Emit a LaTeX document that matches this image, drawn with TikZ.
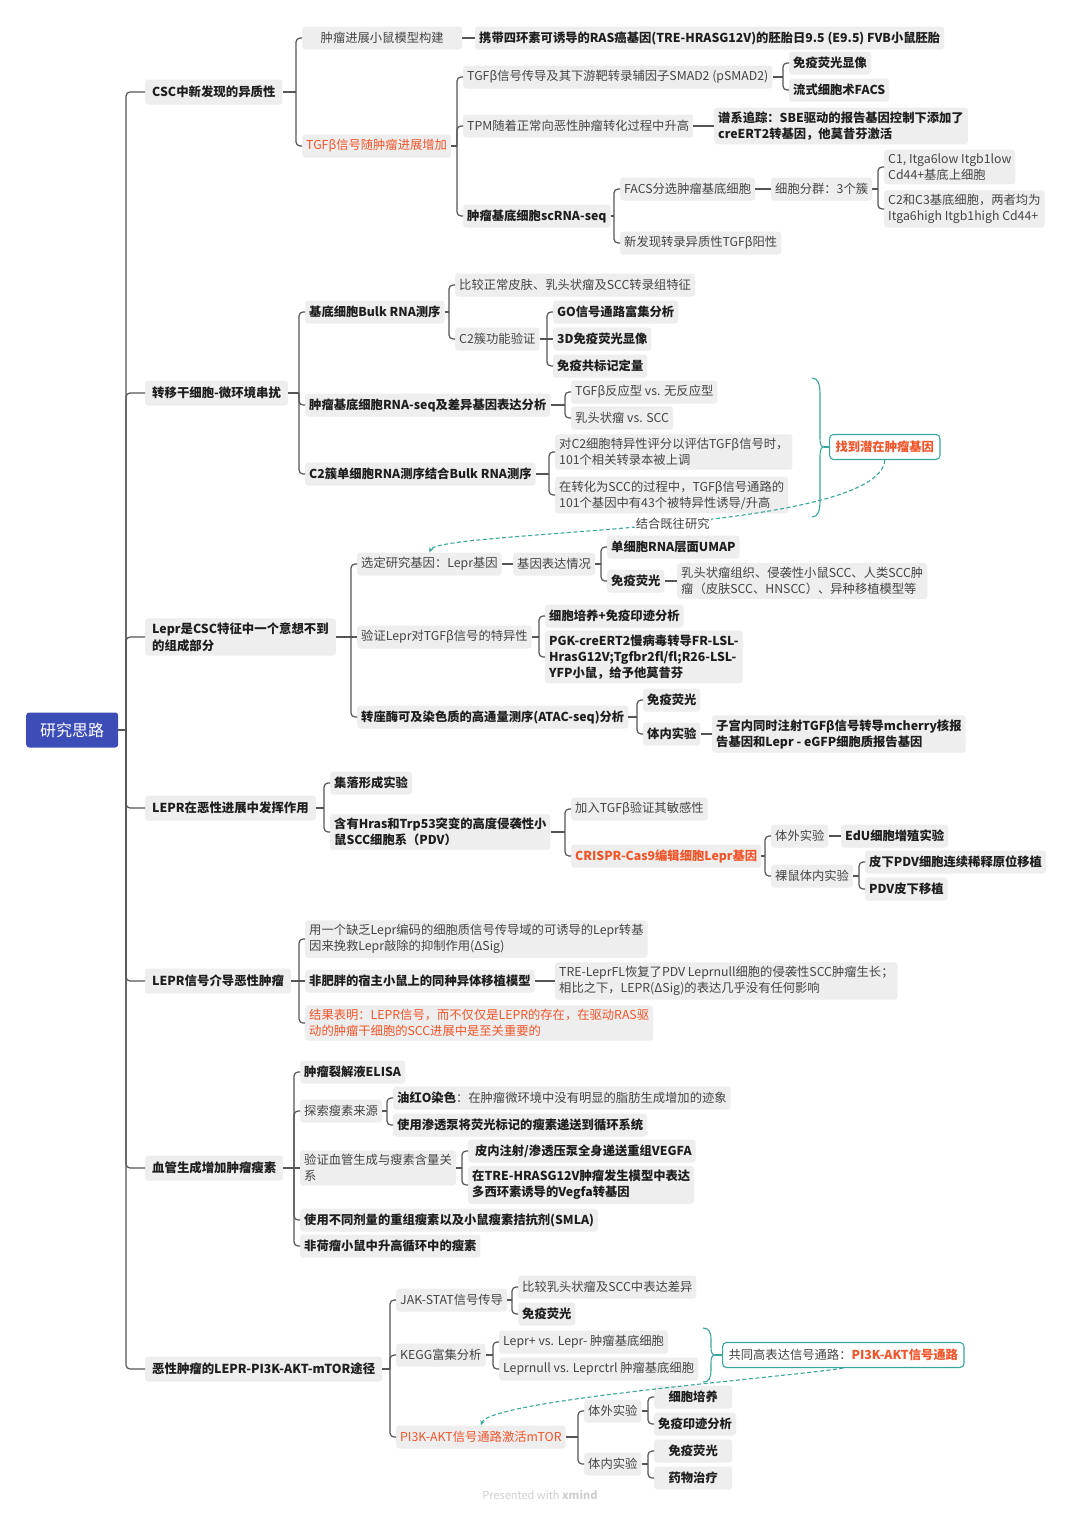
\documentclass[tikz,border=0pt]{standalone}
\usepackage{fontspec}
\setmainfont{Noto Sans CJK SC}
\usetikzlibrary{arrows.meta,calc}
\definecolor{boxgray}{HTML}{EEEEEE}
\definecolor{txtgray}{HTML}{444444}
\definecolor{txtdark}{HTML}{1E1E1E}
\definecolor{orng}{HTML}{F2552A}
\definecolor{tealc}{HTML}{3AA79A}
\definecolor{linegray}{HTML}{555555}
\definecolor{rootblue}{HTML}{3D4DB8}
\definecolor{footgray}{HTML}{CFCFCF}
\newcommand\fsn{\fontsize{12.3}{16}\selectfont}
\newcommand\fsl{\fontsize{12.4}{17}\selectfont}
\newcommand\mmlink[3][6]{%
  \draw[conn] (#2.east) -- ([xshift=-#1pt]#3.west |- #2.east);
  \draw[conn,rounded corners=4pt] ([xshift=-#1pt]#3.west |- #2.east) |- (#3.west);}
\newcommand\mmslink[2]{\draw[conn] (#1.east) -- (#2.west);}
\tikzset{
  box/.style={fill=boxgray, rounded corners=3pt, inner xsep=4pt, inner ysep=4pt,
    minimum height=23pt, anchor=west, align=left, text=txtgray, font=\fsn},
  bbox/.style={box, text=txtdark, font=\fsn\bfseries},
  obox/.style={box, text=orng},
  obbox/.style={box, text=orng, font=\fsn\bfseries},
  lone/.style={box, text=txtdark, font=\fsl\bfseries, inner xsep=7pt, minimum height=25pt},
  rootbox/.style={fill=rootblue, rounded corners=3pt, text=white, anchor=west,
    font=\fontsize{16}{18}\selectfont, minimum width=92pt, minimum height=35pt},
  sumbox/.style={box, fill=white, draw=tealc, line width=1.1pt, rounded corners=4pt,
    minimum height=25pt, inner xsep=6pt},
  wbox/.style={bbox, minimum width=78pt, align=center},
  conn/.style={draw=linegray, line width=1.2pt},
  brace/.style={draw=tealc, line width=1.1pt},
  rel/.style={draw=tealc, line width=1.1pt, dash pattern=on 4pt off 2.5pt,
    -{Stealth[length=5pt,width=4.5pt]}},
  rellabel/.style={fill=white, inner sep=1pt, text=txtgray, font=\fsn},
}
\begin{document}
\begin{tikzpicture}[x=1pt,y=-1pt]
\fill[white] (0,0) rectangle (1080,1515);
\useasboundingbox (0,0) rectangle (1080,1515);

% root
\node[rootbox] (root) at (26,730) {研究思路};

% level 1
\node[lone] (n1) at (145,92) {CSC中新发现的异质性};
\node[lone] (n2) at (145,393) {转移干细胞-微环境串扰};
\node[lone] (n3) at (145,637) {Lepr是CSC特征中一个意想不到\\的组成部分};
\node[lone] (n4) at (145,808) {LEPR在恶性进展中发挥作用};
\node[lone] (n5) at (145,981) {LEPR信号介导恶性肿瘤};
\node[lone] (n6) at (145,1168) {血管生成增加肿瘤瘦素};
\node[lone] (n7) at (145,1369) {恶性肿瘤的LEPR-PI3K-AKT-mTOR途径};

% branch 1
\node[box, minimum width=160pt] (a1) at (302,38) {肿瘤进展小鼠模型构建};
\node[obox] (a2) at (302,146) {TGFβ信号随肿瘤进展增加};
\node[bbox] (a1x) at (475,38) {携带四环素可诱导的RAS癌基因(TRE-HRASG12V)的胚胎日9.5 (E9.5) FVB小鼠胚胎};
\node[box] (b1) at (463,77) {TGFβ信号传导及其下游靶转录辅因子SMAD2 (pSMAD2)};
\node[box] (b2) at (463,126) {TPM随着正常向恶性肿瘤转化过程中升高};
\node[bbox] (b3) at (463,216) {肿瘤基底细胞scRNA-seq};
\node[bbox] (c1) at (789,63) {免疫荧光显像};
\node[bbox] (c2) at (789,90) {流式细胞术FACS};
\node[bbox] (c3) at (714,126) {谱系追踪：SBE驱动的报告基因控制下添加了\\creERT2转基因，他莫昔芬激活};
\node[box] (c4) at (620,189) {FACS分选肿瘤基底细胞};
\node[box] (c5) at (620,243) {新发现转录异质性TGFβ阳性};
\node[box] (d1) at (771,189) {细胞分群：3个簇};
\node[box] (e1) at (884,167) {C1, Itga6low Itgb1low\\Cd44+基底上细胞};
\node[box] (e2) at (884,209) {C2和C3基底细胞，两者均为\\Itga6high Itgb1high Cd44+};

% branch 2
\node[bbox] (f1) at (305,312) {基底细胞Bulk RNA测序};
\node[bbox] (f2) at (305,405) {肿瘤基底细胞RNA-seq及差异基因表达分析};
\node[bbox] (f3) at (305,474) {C2簇单细胞RNA测序结合Bulk RNA测序};
\node[box] (g1) at (455,285) {比较正常皮肤、乳头状瘤及SCC转录组特征};
\node[box] (g2) at (455,339) {C2簇功能验证};
\node[bbox] (h1) at (553,312) {GO信号通路富集分析};
\node[bbox] (h2) at (553,339) {3D免疫荧光显像};
\node[bbox] (h3) at (553,366) {免疫共标记定量};
\node[box] (g3) at (571,392) {TGFβ反应型 vs. 无反应型};
\node[box] (g4) at (571,418) {乳头状瘤 vs. SCC};
\node[box] (g5) at (555,452) {对C2细胞特异性评分以评估TGFβ信号时，\\101个相关转录本被上调};
\node[box] (g6) at (555,495) {在转化为SCC的过程中，TGFβ信号通路的\\101个基因中有43个被特异性诱导/升高};
\node[sumbox, text=orng, font=\fsn\bfseries] (s1) at (829,447) {找到潜在肿瘤基因};

% branch 3
\node[box] (i1) at (357,564) {选定研究基因：Lepr基因};
\node[box] (i2) at (357,637) {验证Lepr对TGFβ信号的特异性};
\node[bbox] (i3) at (357,717) {转座酶可及染色质的高通量测序(ATAC-seq)分析};
\node[box] (j1) at (513,564) {基因表达情况};
\node[bbox] (k1) at (607,547) {单细胞RNA层面UMAP};
\node[bbox] (k2) at (607,581) {免疫荧光};
\node[box] (k3) at (677,581) {乳头状瘤组织、侵袭性小鼠SCC、人类SCC肿\\瘤（皮肤SCC、HNSCC）、异种移植模型等};
\node[bbox] (j2) at (545,616) {细胞培养+免疫印迹分析};
\node[bbox] (j3) at (545,657) {PGK-creERT2慢病毒转导FR-LSL-\\HrasG12V;Tgfbr2fl/fl;R26-LSL-\\YFP小鼠，给予他莫昔芬};
\node[bbox] (j4) at (643,700) {免疫荧光};
\node[bbox] (j5) at (643,734) {体内实验};
\node[bbox] (j6) at (712,734) {子宫内同时注射TGFβ信号转导mcherry核报\\告基因和Lepr - eGFP细胞质报告基因};

% branch 4
\node[bbox] (l1) at (330,783) {集落形成实验};
\node[bbox] (l2) at (330,832) {含有Hras和Trp53突变的高度侵袭性小\\鼠SCC细胞系（PDV）};
\node[box] (m1) at (571,809) {加入TGFβ验证其敏感性};
\node[obbox] (m2) at (571,856) {CRISPR-Cas9编辑细胞Lepr基因};
\node[box] (m3) at (771,836) {体外实验};
\node[box] (m4) at (771,876) {裸鼠体内实验};
\node[bbox] (m5) at (841,836) {EdU细胞增殖实验};
\node[bbox] (m6) at (865,862) {皮下PDV细胞连续稀释原位移植};
\node[bbox] (m7) at (865,889) {PDV皮下移植};

% branch 5
\node[box] (o1) at (305,939) {用一个缺乏Lepr编码的细胞质信号传导域的可诱导的Lepr转基\\因来挽救Lepr敲除的抑制作用(ΔSig)};
\node[bbox] (o2) at (305,981) {非肥胖的宿主小鼠上的同种异体移植模型};
\node[obox] (o3) at (305,1023) {结果表明：LEPR信号，而不仅仅是LEPR的存在，在驱动RAS驱\\动的肿瘤干细胞的SCC进展中是至关重要的};
\node[box] (o4) at (555,981) {TRE-LeprFL恢复了PDV Leprnull细胞的侵袭性SCC肿瘤生长；\\相比之下，LEPR(ΔSig)的表达几乎没有任何影响};

% branch 6
\node[bbox] (p1) at (300,1072) {肿瘤裂解液ELISA};
\node[box] (p2) at (300,1111) {探索瘦素来源};
\node[box] (p3) at (300,1168) {验证血管生成与瘦素含量关\\系};
\node[bbox] (p4) at (300,1220) {使用不同剂量的重组瘦素以及小鼠瘦素拮抗剂(SMLA)};
\node[bbox] (p5) at (300,1246) {非荷瘤小鼠中升高循环中的瘦素};
\node[box] (q1) at (393,1098) {{\color{txtdark}\bfseries 油红O染色}：在肿瘤微环境中没有明显的脂肪生成增加的迹象};
\node[bbox] (q2) at (393,1125) {使用渗透泵将荧光标记的瘦素递送到循环系统};
\node[bbox] (q3) at (468,1151) {\ 皮内注射/渗透压泵全身递送重组VEGFA};
\node[bbox] (q4) at (468,1185) {在TRE-HRASG12V肿瘤发生模型中表达\\多西环素诱导的Vegfa转基因};

% branch 7
\node[box] (r1) at (396,1300) {JAK-STAT信号传导};
\node[box] (r2) at (396,1355) {KEGG富集分析};
\node[obox] (r3) at (396,1437) {PI3K-AKT信号通路激活mTOR};
\node[box] (t1) at (518,1287) {比较乳头状瘤及SCC中表达差异};
\node[bbox] (t2) at (518,1314) {免疫荧光};
\node[box] (t3) at (499,1342) {Lepr+ vs. Lepr- 肿瘤基底细胞};
\node[box] (t4) at (499,1369) {Leprnull vs. Leprctrl 肿瘤基底细胞};
\node[sumbox] (s2) at (722,1355) {共同高表达信号通路：{\color{orng}\bfseries PI3K-AKT信号通路}};
\node[box] (u1) at (584,1411) {体外实验};
\node[box] (u2) at (584,1464) {体内实验};
\node[wbox] (v1) at (654,1397) {细胞培养};
\node[wbox] (v2) at (654,1424) {免疫印迹分析};
\node[wbox] (v3) at (654,1451) {免疫荧光};
\node[wbox] (v4) at (654,1478) {药物治疗};

% footer
\node[text=footgray, font=\fontsize{11}{13}\selectfont] (ft) at (540,1495) {Presented with \textbf{xmind}};

% connectors: trunk
\foreach \c in {n1,n2,n3,n4,n5,n6,n7} {\mmlink[19]{root}{\c}}
% branch 1
\mmlink{n1}{a1}\mmlink{n1}{a2}
\mmslink{a1}{a1x}
\mmlink{a2}{b1}\mmlink{a2}{b2}\mmlink{a2}{b3}
\mmlink{b1}{c1}\mmlink{b1}{c2}
\mmslink{b2}{c3}
\mmlink{b3}{c4}\mmlink{b3}{c5}
\mmslink{c4}{d1}
\mmlink{d1}{e1}\mmlink{d1}{e2}
% branch 2
\mmlink{n2}{f1}\mmlink{n2}{f2}\mmlink{n2}{f3}
\mmlink{f1}{g1}\mmlink{f1}{g2}
\mmlink{g2}{h1}\mmslink{g2}{h2}\mmlink{g2}{h3}
\mmlink{f2}{g3}\mmlink{f2}{g4}
\mmlink{f3}{g5}\mmlink{f3}{g6}
% branch 3
\mmlink{n3}{i1}\mmslink{n3}{i2}\mmlink{n3}{i3}
\mmslink{i1}{j1}
\mmlink{j1}{k1}\mmlink{j1}{k2}
\mmslink{k2}{k3}
\mmlink{i2}{j2}\mmlink{i2}{j3}
\mmlink{i3}{j4}\mmlink{i3}{j5}
\mmslink{j5}{j6}
% branch 4
\mmlink{n4}{l1}\mmlink{n4}{l2}
\mmlink{l2}{m1}\mmlink{l2}{m2}
\mmlink{m2}{m3}\mmlink{m2}{m4}
\mmslink{m3}{m5}
\mmlink{m4}{m6}\mmlink{m4}{m7}
% branch 5
\mmlink{n5}{o1}\mmslink{n5}{o2}\mmlink{n5}{o3}
\mmslink{o2}{o4}
% branch 6
\mmlink{n6}{p1}\mmlink{n6}{p2}\mmslink{n6}{p3}\mmlink{n6}{p4}\mmlink{n6}{p5}
\mmlink{p2}{q1}\mmlink{p2}{q2}
\mmlink{p3}{q3}\mmlink{p3}{q4}
% branch 7
\mmlink{n7}{r1}\mmlink{n7}{r2}\mmlink{n7}{r3}
\mmlink{r1}{t1}\mmlink{r1}{t2}
\mmlink{r2}{t3}\mmlink{r2}{t4}
\mmlink{r3}{u1}\mmlink{r3}{u2}
\mmlink{u1}{v1}\mmlink{u1}{v2}
\mmlink{u2}{v3}\mmlink{u2}{v4}

% summary braces
\coordinate (bt1) at (812,378);
\coordinate (bm1) at (824,447);
\coordinate (bb1) at (812,517);
\draw[brace] (bt1) .. controls (818,378) and (820,384) .. (820,394) -- (820,438)
  .. controls (820,444) and (821,447) .. (bm1)
  .. controls (821,447) and (820,450) .. (820,456) -- (820,500)
  .. controls (820,511) and (818,517) .. (bb1);
\draw[brace] (bm1) -- (s1.west);

\coordinate (bt2) at (703,1328);
\coordinate (bm2) at (715,1355);
\coordinate (bb2) at (703,1382);
\draw[brace] (bt2) .. controls (709,1328) and (711,1332) .. (711,1340) -- (711,1347)
  .. controls (711,1352) and (712,1355) .. (bm2)
  .. controls (712,1355) and (711,1358) .. (711,1363) -- (711,1370)
  .. controls (711,1378) and (709,1382) .. (bb2);
\draw[brace] (bm2) -- (s2.west);

% relationship arrows
\draw[rel] (s1.south) .. controls (880,533) and (440,530) .. (i1.north)
  node[rellabel, pos=0.48] (lab1) {结合既往研究};
\draw[rel] (s2.south) .. controls (780,1378) and (490,1400) .. (r3.north);
\end{tikzpicture}
\end{document}
